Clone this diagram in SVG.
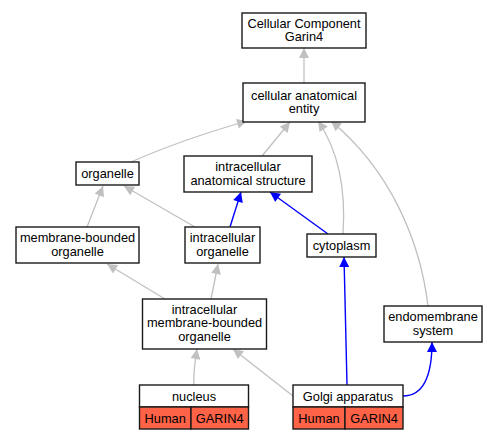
<svg xmlns="http://www.w3.org/2000/svg" width="499" height="440" viewBox="0 0 499 440">
<style>
.box{fill:#fff;stroke:#1a1a1a;stroke-width:1.4}
.cell{fill:#ff6347;stroke:#1a1a1a;stroke-width:1.4}
text{font-family:"Liberation Sans",Arial,sans-serif;font-size:12.8px;fill:#000;text-anchor:middle}
.g{fill:none;stroke:#c0c0c0;stroke-width:1.3;marker-end:url(#ag)}
.b{fill:none;stroke:#0000ff;stroke-width:1.4;marker-end:url(#ab)}
</style>
<defs>
<marker id="ag" viewBox="0 0 10 10" refX="10" refY="5" markerUnits="userSpaceOnUse" markerWidth="13" markerHeight="10" orient="auto"><path d="M0,0L10,5L0,10z" fill="#c0c0c0"/></marker>
<marker id="ab" viewBox="0 0 10 10" refX="10" refY="5" markerUnits="userSpaceOnUse" markerWidth="13" markerHeight="10" orient="auto"><path d="M0,0L10,5L0,10z" fill="#0000ff"/></marker>
</defs>
<g id="edges">
<path class="g" d="M304,83L304,48"/>
<path class="g" d="M131,162C165,147 205,133 247,121"/>
<path class="g" d="M262,156L290,122"/>
<path class="g" d="M343,234C346,190 338,150 318,121"/>
<path class="g" d="M428,306C420,240 390,170 331,121"/>
<path class="g" d="M87,227L103,186"/>
<path class="g" d="M195,227L124,186"/>
<path class="b" d="M230,227L241,192"/>
<path class="b" d="M328,234L270,192"/>
<path class="g" d="M165,299L107,264"/>
<path class="g" d="M211,299L218,264"/>
<path class="g" d="M194,385C193,372 195,362 197,349"/>
<path class="g" d="M293,396L233,349"/>
<path class="b" d="M347,385C346,340 345,300 344,257"/>
<path class="b" d="M403,396C422,396 432,378 432,342"/>
</g>
<g id="n_cc">
<rect class="box" x="242" y="13" width="124" height="35"/>
<text x="304" y="27.5">Cellular Component</text>
<text x="304" y="41">Garin4</text>
</g>
<g id="n_cae">
<rect class="box" x="243" y="83" width="122" height="39"/>
<text x="304" y="99.5">cellular anatomical</text>
<text x="304" y="113">entity</text>
</g>
<g id="n_organelle">
<rect class="box" x="76" y="162" width="63" height="23"/>
<text x="107.5" y="178">organelle</text>
</g>
<g id="n_ias">
<rect class="box" x="184" y="156" width="128" height="36"/>
<text x="248" y="171">intracellular</text>
<text x="248" y="184.5">anatomical structure</text>
</g>
<g id="n_mbo">
<rect class="box" x="16" y="227" width="123" height="36"/>
<text x="77.5" y="242">membrane-bounded</text>
<text x="77.5" y="255.5">organelle</text>
</g>
<g id="n_io">
<rect class="box" x="185" y="227" width="75" height="36"/>
<text x="222.5" y="242">intracellular</text>
<text x="222.5" y="255.5">organelle</text>
</g>
<g id="n_cytoplasm">
<rect class="box" x="307" y="234" width="69" height="23"/>
<text x="341.5" y="250">cytoplasm</text>
</g>
<g id="n_imbo">
<rect class="box" x="142.5" y="299" width="124" height="50"/>
<text x="204.5" y="313.5">intracellular</text>
<text x="204.5" y="327">membrane-bounded</text>
<text x="204.5" y="340.5">organelle</text>
</g>
<g id="n_ems">
<rect class="box" x="384" y="306" width="98" height="36"/>
<text x="433" y="321">endomembrane</text>
<text x="433" y="334.5">system</text>
</g>
<g id="n_nucleus">
<rect class="box" x="139.5" y="385" width="109" height="22"/>
<rect class="cell" x="139.5" y="407" width="51.5" height="22"/>
<rect class="cell" x="191" y="407" width="57.5" height="22"/>
<text x="194" y="400.5">nucleus</text>
<text x="165.2" y="422.5">Human</text>
<text x="219.7" y="422.5">GARIN4</text>
</g>
<g id="n_golgi">
<rect class="box" x="293" y="385" width="110" height="22"/>
<rect class="cell" x="293" y="407" width="52" height="22"/>
<rect class="cell" x="345" y="407" width="58" height="22"/>
<text x="348" y="400.5">Golgi apparatus</text>
<text x="319" y="422.5">Human</text>
<text x="374" y="422.5">GARIN4</text>
</g>
</svg>
